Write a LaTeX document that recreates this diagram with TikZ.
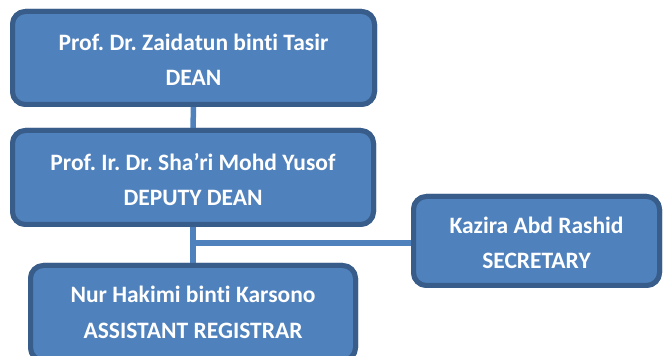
\documentclass[tikz,border=0pt]{standalone}
\usepackage{fontspec}
\setmainfont[Ligatures=NoCommon]{Carlito}
\definecolor{boxfill}{HTML}{4F81BD}
\definecolor{boxline}{HTML}{385D8A}
\begin{document}
\frenchspacing
\begin{tikzpicture}[x=1pt,y=1pt,
  orgbox/.style={draw=boxline, fill=boxfill, line width=5pt, rounded corners=13pt,
    inner sep=0pt, rectangle},
  txt/.style={anchor=base, text=white, font=\bfseries\fontsize{23.5}{28}\selectfont, inner sep=0pt},
  link/.style={draw=boxfill, line width=5.5pt}]
\useasboundingbox (0,0) rectangle (664,356);
\node[orgbox, minimum width=362pt, minimum height=93pt] (dean) at (193.5,298) {};
\node[orgbox, minimum width=361pt, minimum height=94pt] (deputy) at (193,178.5) {};
\node[orgbox, minimum width=325pt, minimum height=95pt] (ar) at (193,43) {};
\node[orgbox, minimum width=246pt, minimum height=89pt] (sec) at (536.5,115) {};
\coordinate (j) at (193,113);
\draw[link] (dean.south) -- (deputy.north);
\draw[link] (deputy.south) -- (ar.north);
\draw[link] (j) -- (j -| sec.west);
% redraw boxes over connector ends
\node[orgbox, minimum width=362pt, minimum height=93pt] at (dean) {};
\node[orgbox, minimum width=361pt, minimum height=94pt] at (deputy) {};
\node[orgbox, minimum width=325pt, minimum height=95pt] at (ar) {};
\node[orgbox, minimum width=246pt, minimum height=89pt] at (sec) {};
\node[txt] (t1a) at ([yshift=7pt]dean.center) {Prof. Dr. Zaidatun binti Tasir};
\node[txt] (t1b) at ([yshift=-28pt]dean.center) {DEAN};
\node[txt] (t2a) at ([yshift=7pt]deputy.center) {Prof. Ir. Dr. Sha’ri Mohd Yusof};
\node[txt] (t2b) at ([yshift=-28pt]deputy.center) {DEPUTY DEAN};
\node[txt] (t3a) at ([yshift=10pt]ar.center) {Nur Hakimi binti Karsono};
\node[txt] (t3b) at ([yshift=-26pt]ar.center) {ASSISTANT REGISTRAR};
\node[txt] (t4a) at ([yshift=7pt]sec.center) {Kazira Abd Rashid};
\node[txt] (t4b) at ([yshift=-28pt]sec.center) {SECRETARY};
\end{tikzpicture}
\end{document}
